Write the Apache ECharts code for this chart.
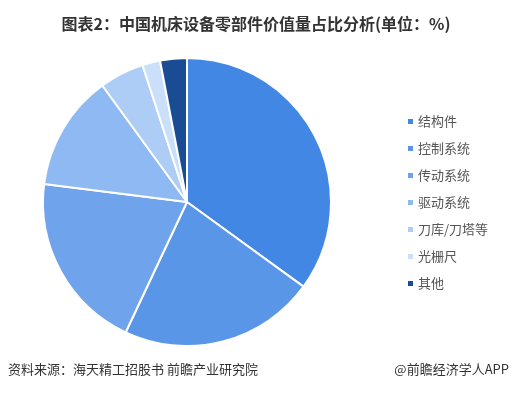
<!DOCTYPE html>
<html>
<head>
<meta charset="utf-8">
<script src="https://cdn.jsdelivr.net/npm/echarts@6/dist/echarts.min.js"></script>
<style>
  html, body { margin: 0; padding: 0; background: #fff; }
  #chart { width: 512px; height: 395px; }
</style>
</head>
<body>
<div id="chart"></div>
<script>
const categories = ["结构件", "控制系统", "传动系统", "驱动系统", "刀库/刀塔等", "光栅尺", "其他"];
const values = [35, 22, 20, 13, 5, 2, 3];
const colors = ["#4287e3", "#5a96e8", "#6fa3ec", "#8fb9f2", "#adccf6", "#cadff9", "#1a4c94"];

const font = "'Noto Sans CJK SC', 'Microsoft YaHei', sans-serif";
const myChart = echarts.init(document.getElementById("chart"));

let option = {
  animation: false,
  color: colors,
  title: {
    text: "图表2：中国机床设备零部件价值量占比分析(单位：%)",
    left: "center",
    top: 11,
    textStyle: {
      fontFamily: font,
      fontSize: 16,
      fontWeight: "bold",
      color: "#333",
    },
  },
  legend: {
    orient: "vertical",
    left: 401,
    top: 110,
    itemWidth: 7,
    itemHeight: 7,
    itemGap: 14,
    icon: "rect",
    textStyle: {
      fontFamily: font,
      fontSize: 13,
      color: "#555",
      padding: [0, 0, 0, -1],
    },
    data: categories,
  },
  graphic: [
    {
      type: "text",
      left: 8,
      top: 363,
      style: { text: "资料来源：海天精工招股书 前瞻产业研究院", font: "13px " + font, fill: "#333" },
    },
    {
      type: "text",
      right: 3,
      top: 363,
      style: { text: "@前瞻经济学人APP", font: "13px " + font, fill: "#333" },
    },
  ],
  series: [
    {
      type: "pie",
      center: [187, 202],
      radius: 144,
      startAngle: 90,
      clockwise: true,
      label: { show: false },
      labelLine: { show: false },
      itemStyle: { borderColor: "#fff", borderWidth: 2 },
      emphasis: { disabled: true },
      data: categories.map((name, i) => ({ name: name, value: values[i] })),
    },
  ],
};

option && myChart.setOption(option);
</script>
</body>
</html>
